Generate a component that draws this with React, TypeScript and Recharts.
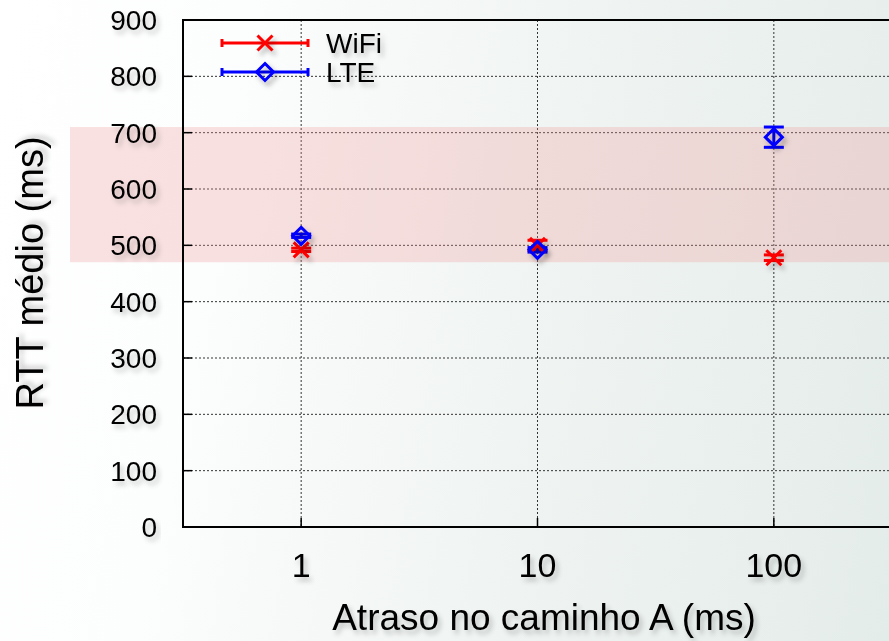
import React from 'react';
import { ScatterChart, Scatter, XAxis, YAxis, CartesianGrid, ReferenceArea, ErrorBar } from 'recharts';

const delays = [1, 10, 100];
const wifiRtt = [492, 500, 478];
const wifiErr = [3, 9, 5];
const lteRtt = [517, 492, 692];
const lteErr = [3, 4, 18];
const yTicks = [0, 100, 200, 300, 400, 500, 600, 700, 800, 900];
const xTicks = [1, 10, 100];
const xDomain = [Math.pow(10, -0.5), Math.pow(10, 2.5)];
const yDomain = [0, 900];
const band = [470, 710];
const seriesNames = ['WiFi', 'LTE'];

const wifiData = delays.map((d, i) => ({ x: d, y: wifiRtt[i], err: wifiErr[i] }));
const lteData = delays.map((d, i) => ({ x: d, y: lteRtt[i], err: lteErr[i] }));

const FONT = '"Liberation Sans", Arial, Helvetica, sans-serif';
const RED = '#ff0000';
const BLUE = '#0000ff';

const XMark = (p: any) => {
  const { cx, cy } = p;
  if (cx == null || cy == null) return <g />;
  const s = 7.5;
  return (
    <path
      d={`M${cx - s},${cy - s}L${cx + s},${cy + s}M${cx - s},${cy + s}L${cx + s},${cy - s}`}
      stroke={RED}
      strokeWidth={3}
      fill="none"
      filter="url(#ds)"
    />
  );
};

const Diamond = (p: any) => {
  const { cx, cy } = p;
  if (cx == null || cy == null) return <g />;
  const s = 8.5;
  return (
    <path
      d={`M${cx},${cy - s}L${cx + s},${cy}L${cx},${cy + s}L${cx - s},${cy}Z`}
      stroke={BLUE}
      strokeWidth={3}
      fill="none"
      filter="url(#ds)"
    />
  );
};

const YTickLeft = (p: any) => {
  const { x, y, payload } = p;
  return (
    <g>
      <line x1={x} x2={x + 9} y1={y} y2={y} stroke="#000" strokeWidth={1.5} />
      <text x={x - 26} y={y + 10} textAnchor="end" fontSize={28} fontFamily={FONT} fill="#000" filter="url(#ts)">
        {payload.value}
      </text>
    </g>
  );
};

const YTickRight = (p: any) => {
  const { x, y } = p;
  return <line x1={x} x2={x - 9} y1={y} y2={y} stroke="#000" strokeWidth={1.5} />;
};

const XTickBottom = (p: any) => {
  const { x, y, payload } = p;
  return (
    <g>
      <line x1={x} x2={x} y1={y} y2={y - 9} stroke="#000" strokeWidth={1.5} />
      <text x={x} y={y + 50} textAnchor="middle" fontSize={34} fontFamily={FONT} fill="#000" filter="url(#ts)">
        {payload.value}
      </text>
    </g>
  );
};

const XTickTop = (p: any) => {
  const { x, y } = p;
  return <line x1={x} x2={x} y1={y} y2={y + 9} stroke="#000" strokeWidth={1.5} />;
};

const BandShape = (p: any) => {
  const ext = 113;
  return <rect x={p.x - ext} y={p.y} width={p.width + ext} height={p.height} fill="rgb(240,150,150)" fillOpacity={0.28} />;
};

const BorderShape = (p: any) => (
  <rect x={p.x} y={p.y} width={p.width} height={p.height} fill="none" stroke="#000" strokeWidth={2} />
);

export default function App() {
  return (
    <div
      style={{
        position: 'fixed',
        left: 0,
        top: 0,
        width: 889,
        height: 641,
        overflow: 'hidden',
        background: 'linear-gradient(100deg, #ffffff 0%, #fcfdfd 25%, #f1f5f3 55%, #e4ece9 100%)',
      }}
    >
      <svg width={0} height={0} style={{ position: 'absolute' }}>
        <defs>
          <filter id="ds" x="-60%" y="-60%" width="220%" height="220%">
            <feDropShadow dx="3" dy="4" stdDeviation="2.5" floodColor="#000" floodOpacity="0.3" />
          </filter>
          <filter id="ts" x="-20%" y="-40%" width="140%" height="180%">
            <feDropShadow dx="3" dy="4" stdDeviation="2.5" floodColor="#000" floodOpacity="0.22" />
          </filter>
        </defs>
      </svg>
      <ScatterChart width={892} height={641} margin={{ top: 20, right: 0, bottom: 0, left: 0 }}>
        <CartesianGrid stroke="#333" strokeDasharray="2 2" strokeWidth={1} horizontalValues={yTicks} verticalValues={xTicks} />
        <XAxis
          dataKey="x"
          type="number"
          scale="log"
          domain={xDomain}
          ticks={xTicks}
          allowDataOverflow
          height={114}
          axisLine={false}
          tickLine={false}
          tickSize={0}
          tickMargin={0}
          interval={0}
          tick={XTickBottom}
        />
        <XAxis
          xAxisId="top"
          orientation="top"
          dataKey="x"
          type="number"
          scale="log"
          domain={xDomain}
          ticks={xTicks}
          allowDataOverflow
          height={0}
          axisLine={false}
          tickLine={false}
          tickSize={0}
          tickMargin={0}
          interval={0}
          tick={XTickTop}
        />
        <YAxis
          dataKey="y"
          type="number"
          domain={yDomain}
          ticks={yTicks}
          width={183}
          axisLine={false}
          tickLine={false}
          tickSize={0}
          tickMargin={0}
          interval={0}
          tick={YTickLeft}
        />
        <YAxis
          yAxisId="right"
          orientation="right"
          dataKey="y"
          type="number"
          domain={yDomain}
          ticks={yTicks}
          width={0}
          axisLine={false}
          tickLine={false}
          tickSize={0}
          tickMargin={0}
          interval={0}
          tick={YTickRight}
        />
        <ReferenceArea y1={band[0]} y2={band[1]} ifOverflow="visible" shape={BandShape} />
        <ReferenceArea
          x1={xDomain[0]}
          x2={xDomain[1]}
          y1={yDomain[0]}
          y2={yDomain[1]}
          ifOverflow="visible"
          shape={BorderShape}
        />
        <Scatter name={seriesNames[0]} data={wifiData} shape={XMark} isAnimationActive={false}>
          <ErrorBar dataKey="err" direction="y" width={10} strokeWidth={3} stroke={RED} />
        </Scatter>
        <Scatter name={seriesNames[1]} data={lteData} shape={Diamond} isAnimationActive={false}>
          <ErrorBar dataKey="err" direction="y" width={10} strokeWidth={3} stroke={BLUE} />
        </Scatter>
      </ScatterChart>
      <svg width={889} height={641} style={{ position: 'absolute', left: 0, top: 0, pointerEvents: 'none' }}>
        <text
          x={30}
          y={273}
          transform="rotate(-90 30 273)"
          textAnchor="middle"
          dominantBaseline="central"
          fontSize={38}
          fontFamily={FONT}
          fill="#000"
          filter="url(#ts)"
        >
          RTT médio (ms)
        </text>
        <text x={544} y={630} textAnchor="middle" fontSize={37} fontFamily={FONT} fill="#000" filter="url(#ts)">
          Atraso no caminho A (ms)
        </text>
        {/* legend */}
        <g>
          <line x1={222} x2={308} y1={43} y2={43} stroke={RED} strokeWidth={3} />
          <line x1={222} x2={222} y1={39} y2={47} stroke={RED} strokeWidth={3} />
          <line x1={308} x2={308} y1={39} y2={47} stroke={RED} strokeWidth={3} />
          <XMark cx={265} cy={43} />
          <text x={326} y={53} fontSize={28} fontFamily={FONT} fill="#000" filter="url(#ts)">
            {seriesNames[0]}
          </text>
          <line x1={222} x2={308} y1={72} y2={72} stroke={BLUE} strokeWidth={3} />
          <line x1={222} x2={222} y1={68} y2={76} stroke={BLUE} strokeWidth={3} />
          <line x1={308} x2={308} y1={68} y2={76} stroke={BLUE} strokeWidth={3} />
          <Diamond cx={265} cy={72} />
          <text x={326} y={82} fontSize={28} fontFamily={FONT} fill="#000" filter="url(#ts)">
            {seriesNames[1]}
          </text>
        </g>
      </svg>
    </div>
  );
}
